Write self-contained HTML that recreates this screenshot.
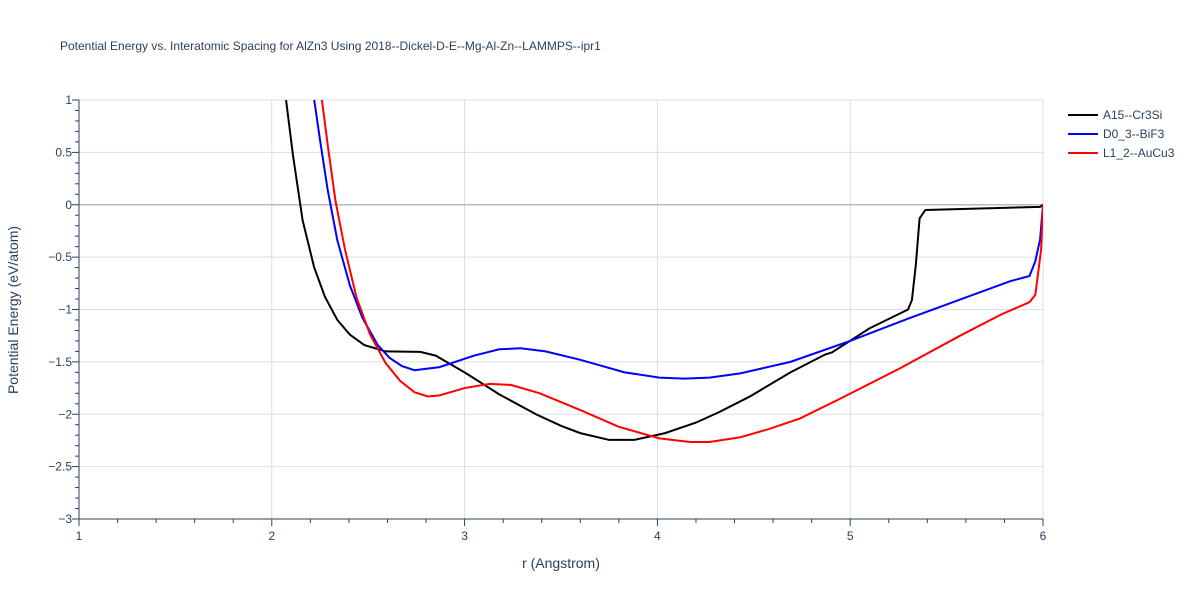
<!DOCTYPE html>
<html><head><meta charset="utf-8"><style>
body{margin:0;background:#fff;font-family:"Liberation Sans",sans-serif}
svg text{font-family:"Liberation Sans",sans-serif}
</style></head><body>
<svg width="1200" height="600">
<defs><clipPath id="pc"><rect x="79" y="100" width="964" height="419"/></clipPath></defs>
<text x="60" y="50" font-size="12" fill="#2a3f5f">Potential Energy vs. Interatomic Spacing for AlZn3 Using 2018--Dickel-D-E--Mg-Al-Zn--LAMMPS--ipr1</text>
<g id="grid"></g>
<g id="axes"></g>
<g id="series" clip-path="url(#pc)"></g>
<text x="561" y="568" font-size="14" fill="#2a3f5f" text-anchor="middle">r (Angstrom)</text>
<text transform="translate(18,310) rotate(-90)" font-size="14" fill="#2a3f5f" text-anchor="middle">Potential Energy (eV/atom)</text>
<g id="legend"></g>
</svg>
<script>
const xTicks=[1,2,3,4,5,6];
const yTicks=[1,0.5,0,-0.5,-1,-1.5,-2,-2.5,-3];
const yTickLabels=["1","0.5","0","−0.5","−1","−1.5","−2","−2.5","−3"];
const seriesNames=["A15--Cr3Si","D0_3--BiF3","L1_2--AuCu3"];
const seriesColors=["#000000","#0000ff","#ff0000"];
const r0=[2.074,2.11,2.16,2.22,2.276,2.34,2.405,2.48,2.59,2.77,2.85,3.0,3.18,3.37,3.5,3.6,3.75,3.88,4.04,4.2,4.32,4.48,4.69,4.87,4.905,5.1,5.3,5.32,5.34,5.36,5.39,5.985,6];
const e0=[1,0.47,-0.15,-0.6,-0.88,-1.1,-1.24,-1.34,-1.4,-1.405,-1.44,-1.6,-1.81,-2.0,-2.11,-2.18,-2.245,-2.245,-2.18,-2.08,-1.98,-1.83,-1.6,-1.43,-1.41,-1.18,-1.0,-0.91,-0.58,-0.13,-0.05,-0.02,0];
const r1=[2.22,2.25,2.29,2.34,2.405,2.47,2.55,2.61,2.675,2.74,2.87,3.05,3.18,3.29,3.42,3.6,3.83,4.01,4.14,4.27,4.43,4.69,5.0,5.31,5.83,5.93,5.96,5.985,6];
const e1=[1,0.62,0.14,-0.34,-0.77,-1.08,-1.34,-1.46,-1.54,-1.58,-1.55,-1.44,-1.38,-1.37,-1.4,-1.48,-1.6,-1.65,-1.66,-1.65,-1.61,-1.5,-1.3,-1.08,-0.73,-0.68,-0.54,-0.33,0];
const r2=[2.26,2.29,2.33,2.38,2.44,2.51,2.59,2.665,2.74,2.81,2.87,3.0,3.13,3.24,3.39,3.6,3.8,4.01,4.17,4.27,4.43,4.58,4.74,4.95,5.26,5.57,5.78,5.93,5.96,5.97,5.99,6];
const e2=[1,0.57,0.04,-0.43,-0.89,-1.24,-1.51,-1.68,-1.79,-1.83,-1.82,-1.75,-1.71,-1.72,-1.8,-1.96,-2.12,-2.23,-2.265,-2.265,-2.22,-2.14,-2.04,-1.85,-1.56,-1.25,-1.05,-0.93,-0.86,-0.72,-0.43,0];
const X=v=>79+(v-1)*192.8, Y=v=>100+(1-v)*104.75;
const NS="http://www.w3.org/2000/svg";
function mk(t,a,p){const e=document.createElementNS(NS,t);for(const k in a)e.setAttribute(k,a[k]);p.appendChild(e);return e;}
const grid=document.getElementById('grid'),axes=document.getElementById('axes');
xTicks.forEach(v=>{
 if(v>1){const l=mk('line',{x1:X(v),x2:X(v),y1:100,y2:519,stroke:'#ddd'},grid);
 
 }
 const t=mk('text',{x:X(v),y:540,'font-size':12,fill:'#2a3f5f','text-anchor':'middle'},axes);t.textContent=v;
 
 
});
for(let v=1;v<=6.001;v+=0.2){mk('line',{x1:X(v),x2:X(v),y1:519,y2:v%1<0.01||v%1>0.99?526:523,stroke:'#2a3f5f'},axes);}
yTicks.forEach((v,i)=>{
 const l=mk('line',{x1:79,x2:1043,y1:Y(v),y2:Y(v),stroke:v===0?'#bbb':'#ddd','stroke-width':v===0?1.5:1},grid);
 
 
 const t=mk('text',{x:72,y:Y(v)+4,'font-size':12,fill:'#2a3f5f','text-anchor':'end'},axes);t.textContent=yTickLabels[i];
 
 
});
for(let v=-3;v<=1.001;v+=0.1){mk('line',{x1:79,x2:Math.abs(v*2-Math.round(v*2))<0.01?72:75,y1:Y(v),y2:Y(v),stroke:'#2a3f5f'},axes);}
mk('line',{x1:79,x2:79,y1:100,y2:519,stroke:'#2a3f5f'},axes);
mk('line',{x1:79,x2:1043,y1:519,y2:519,stroke:'#2a3f5f'},axes);
const S=document.getElementById('series');
[[r0,e0],[r1,e1],[r2,e2]].forEach((d,i)=>{
 const p=mk('polyline',{points:d[0].map((r,j)=>X(r)+','+Y(d[1][j])).join(' '),fill:'none',stroke:seriesColors[i],'stroke-width':2},S);
 
 
});
const L=document.getElementById('legend');
seriesNames.forEach((n,i)=>{
 const g=mk('g',{},L);
 
 
 const y=115+i*19;
 mk('line',{x1:1068,x2:1098,y1:y,y2:y,stroke:seriesColors[i],'stroke-width':2},g);
 const t=mk('text',{x:1103,y:y+4,'font-size':12,fill:'#2a3f5f'},g);t.textContent=n;
});
</script>
</body></html>
